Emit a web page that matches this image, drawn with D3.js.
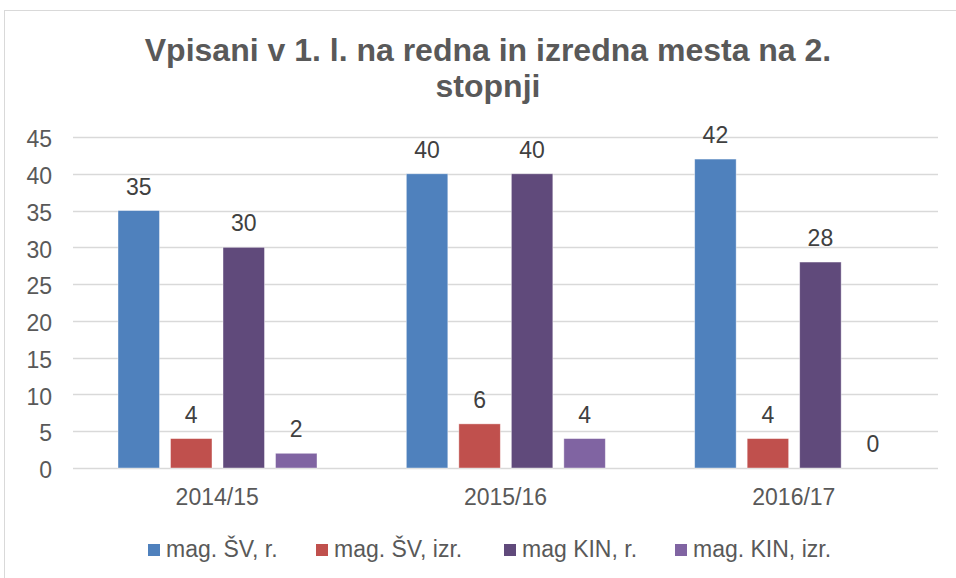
<!DOCTYPE html>
<html>
<head>
<meta charset="utf-8">
<script src="https://cdn.jsdelivr.net/npm/d3@7"></script>
<style>
  body { margin: 0; background: #fff; }
  svg { display: block; font-family: "Liberation Sans", Arial, sans-serif; }
</style>
</head>
<body>
<div id="chart"></div>
<script>
var categories = ['2014/15', '2015/16', '2016/17'];
var seriesNames = ['mag. ŠV, r.', 'mag. ŠV, izr.', 'mag KIN, r.', 'mag. KIN, izr.'];
var seriesColors = ['#4f81bd', '#c0504d', '#604a7b', '#8064a2'];
var magSvR = [35, 40, 42];
var magSvIzr = [4, 6, 4];
var magKinR = [30, 40, 28];
var magKinIzr = [2, 4, 0];
var yTicks = [0, 5, 10, 15, 20, 25, 30, 35, 40, 45];

var seriesValues = [magSvR, magSvIzr, magKinR, magKinIzr];

var W = 956, H = 578;
var plot = {left: 73, right: 938, top: 137, bottom: 468};
var FONT = '"Liberation Sans", Arial, sans-serif';

var svg = d3.select('#chart').append('svg')
    .attr('width', W)
    .attr('height', H);

// chart frame (runs off the right and bottom edges)
svg.append('rect')
    .attr('x', 4.5).attr('y', 10.5)
    .attr('width', 1000).attr('height', 1000)
    .attr('fill', 'none')
    .attr('stroke', '#d9d9d9')
    .attr('stroke-width', 1);

// title
var title = svg.append('text')
    .attr('text-anchor', 'middle')
    .attr('fill', '#595959')
    .style('font-size', '32px')
    .style('font-weight', 'bold');
title.append('tspan').attr('x', 488).attr('y', 61).text('Vpisani v 1. l. na redna in izredna mesta na 2.');
title.append('tspan').attr('x', 488).attr('y', 97).text('stopnji');

var y = d3.scaleLinear().domain([0, 45]).range([plot.bottom, plot.top]);
var x0 = d3.scaleBand().domain(categories).range([plot.left, plot.right]);
var x1 = d3.scaleBand().domain(d3.range(seriesNames.length))
    .range([45, 45 + 199]).paddingInner(0.21);

// gridlines
svg.append('g')
    .selectAll('line')
    .data(yTicks)
    .join('line')
    .attr('x1', plot.left).attr('x2', plot.right)
    .attr('y1', function(d) { return Math.round(y(d)) + 0.5; })
    .attr('y2', function(d) { return Math.round(y(d)) + 0.5; })
    .attr('stroke', '#d9d9d9')
    .attr('stroke-width', 1.3);

// y axis labels
var yAxis = d3.axisLeft(y).tickValues(yTicks).tickSize(0).tickPadding(0);
var gy = svg.append('g')
    .attr('transform', 'translate(52,0)')
    .call(yAxis);
gy.select('.domain').remove();
gy.selectAll('text')
    .attr('dy', '0.42em')
    .attr('fill', '#595959')
    .style('font-size', '23px')
    .style('font-family', FONT);

// x axis labels
var xAxis = d3.axisBottom(x0).tickSize(0).tickPadding(0);
var gx = svg.append('g')
    .attr('transform', 'translate(0,' + 489 + ')')
    .call(xAxis);
gx.select('.domain').remove();
gx.selectAll('text')
    .attr('fill', '#595959')
    .style('font-size', '23px')
    .style('font-family', FONT);

// bars
var groups = svg.append('g')
    .selectAll('g')
    .data(categories)
    .join('g')
    .attr('transform', function(d) { return 'translate(' + x0(d) + ',0)'; });

function rows(d, ci) {
    return seriesValues.map(function(vals, si) { return {s: si, v: vals[ci]}; });
}

groups.selectAll('rect')
    .data(rows)
    .join('rect')
    .attr('x', function(d) { return x1(d.s); })
    .attr('y', function(d) { return y(d.v); })
    .attr('width', x1.bandwidth())
    .attr('height', function(d) { return y(0) - y(d.v); })
    .attr('fill', function(d) { return seriesColors[d.s]; })
    .attr('stroke', '#ffffff')
    .attr('stroke-opacity', 0.5)
    .attr('stroke-width', 0.8);

groups.selectAll('text.lbl')
    .data(rows)
    .join('text')
    .attr('class', 'lbl')
    .attr('x', function(d) { return x1(d.s) + x1.bandwidth() / 2; })
    .attr('y', function(d) { return y(d.v) - 16; })
    .attr('text-anchor', 'middle')
    .attr('fill', '#404040')
    .style('font-size', '23px')
    .text(function(d) { return d.v; });

// legend
var legendX = [148, 316, 504, 675];
var legend = svg.append('g')
    .selectAll('g')
    .data(seriesNames)
    .join('g')
    .attr('transform', function(d, i) { return 'translate(' + legendX[i] + ',544)'; });
legend.append('rect')
    .attr('width', 12).attr('height', 12)
    .attr('fill', function(d, i) { return seriesColors[i]; });
legend.append('text')
    .attr('x', 18).attr('y', 12.5)
    .attr('fill', '#595959')
    .style('font-size', '23px')
    .text(function(d) { return d; });
</script>
</body>
</html>
